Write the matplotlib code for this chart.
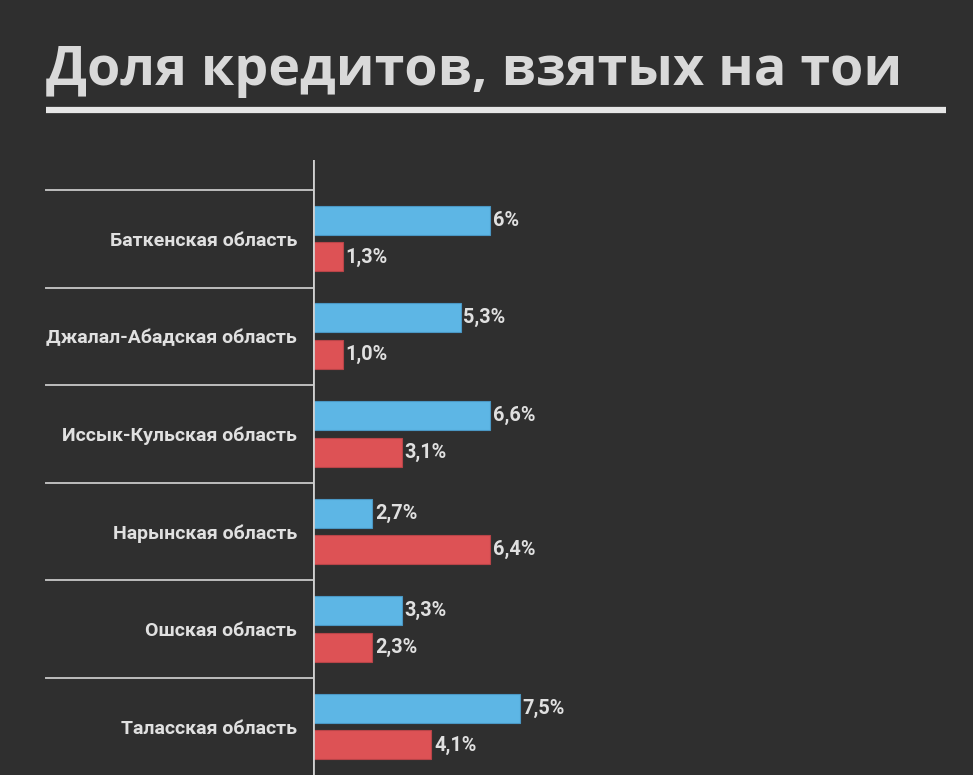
import numpy as np
import matplotlib.pyplot as plt

regions = ["Баткенская область", "Джалал-Абадская область", "Иссык-Кульская область",
           "Нарынская область", "Ошская область", "Таласская область"]
# bar lengths as drawn in the picture (whole percent) and the labels next to them
blue_vals = [6, 5, 6, 2, 3, 7]
red_vals = [1, 1, 3, 6, 2, 4]
blue_labels = ["6%", "5,3%", "6,6%", "2,7%", "3,3%", "7,5%"]
red_labels = ["1,3%", "1,0%", "3,1%", "6,4%", "2,3%", "4,1%"]

bg = "#2f2f2f"
txt = "#e0e0e0"
blue = "#5db6e5"
red = "#dd5255"

fig = plt.figure(figsize=(9.73, 7.75), dpi=100, facecolor=bg)
W, H = 973, 775

# title and its underline
fig.text(46 / W, 1 - 85 / H, "Доля кредитов, взятых на тои", fontsize=38.7, fontweight="bold",
         color="#d9d9d9", family="Open Sans", ha="left", va="baseline")
fig.add_artist(plt.Line2D([46 / W, 946 / W], [1 - 110 / H, 1 - 110 / H], color="#e6e6e6",
                          lw=4.5, solid_capstyle="butt"))

ax = fig.add_axes([313 / W, 0, (946 - 313) / W, (775 - 160) / H])
ax.set_facecolor(bg)
row = 97.6
ax.set_ylim((775 - 190) / row, -30 / row)
ax.set_xlim(0, (946 - 313) / 29.5)

y = np.arange(len(regions))
ax.barh(y + 0.31, blue_vals, height=0.297, color=blue, edgecolor="#4a97c4", lw=0.8)
ax.barh(y + 0.686, red_vals, height=0.297, color=red, edgecolor="#b84448", lw=0.8)

for i in range(len(regions)):
    ax.text(blue_vals[i] + 0.1, i + 0.31, blue_labels[i], color=txt, fontsize=14.3,
            family="Roboto", fontweight="bold", va="center", ha="left")
    ax.text(red_vals[i] + 0.1, i + 0.686, red_labels[i], color=txt, fontsize=14.3,
            family="Roboto", fontweight="bold", va="center", ha="left")
    ax.text(-16 / 633, i + 0.52, regions[i], transform=ax.get_yaxis_transform(), color=txt,
            fontsize=14, family="Roboto", fontweight="bold", va="center", ha="right")
    ax.plot([(46 - 313) / 633, 0], [i, i], transform=ax.get_yaxis_transform(),
            color="#bdbdbd", lw=1.4, clip_on=False)

ax.axvline(0, color="#d0d0d0", lw=2)
for s in ax.spines.values():
    s.set_visible(False)
ax.set_xticks([])
ax.set_yticks([])

fig.savefig("out.png", dpi=100, facecolor=bg)
